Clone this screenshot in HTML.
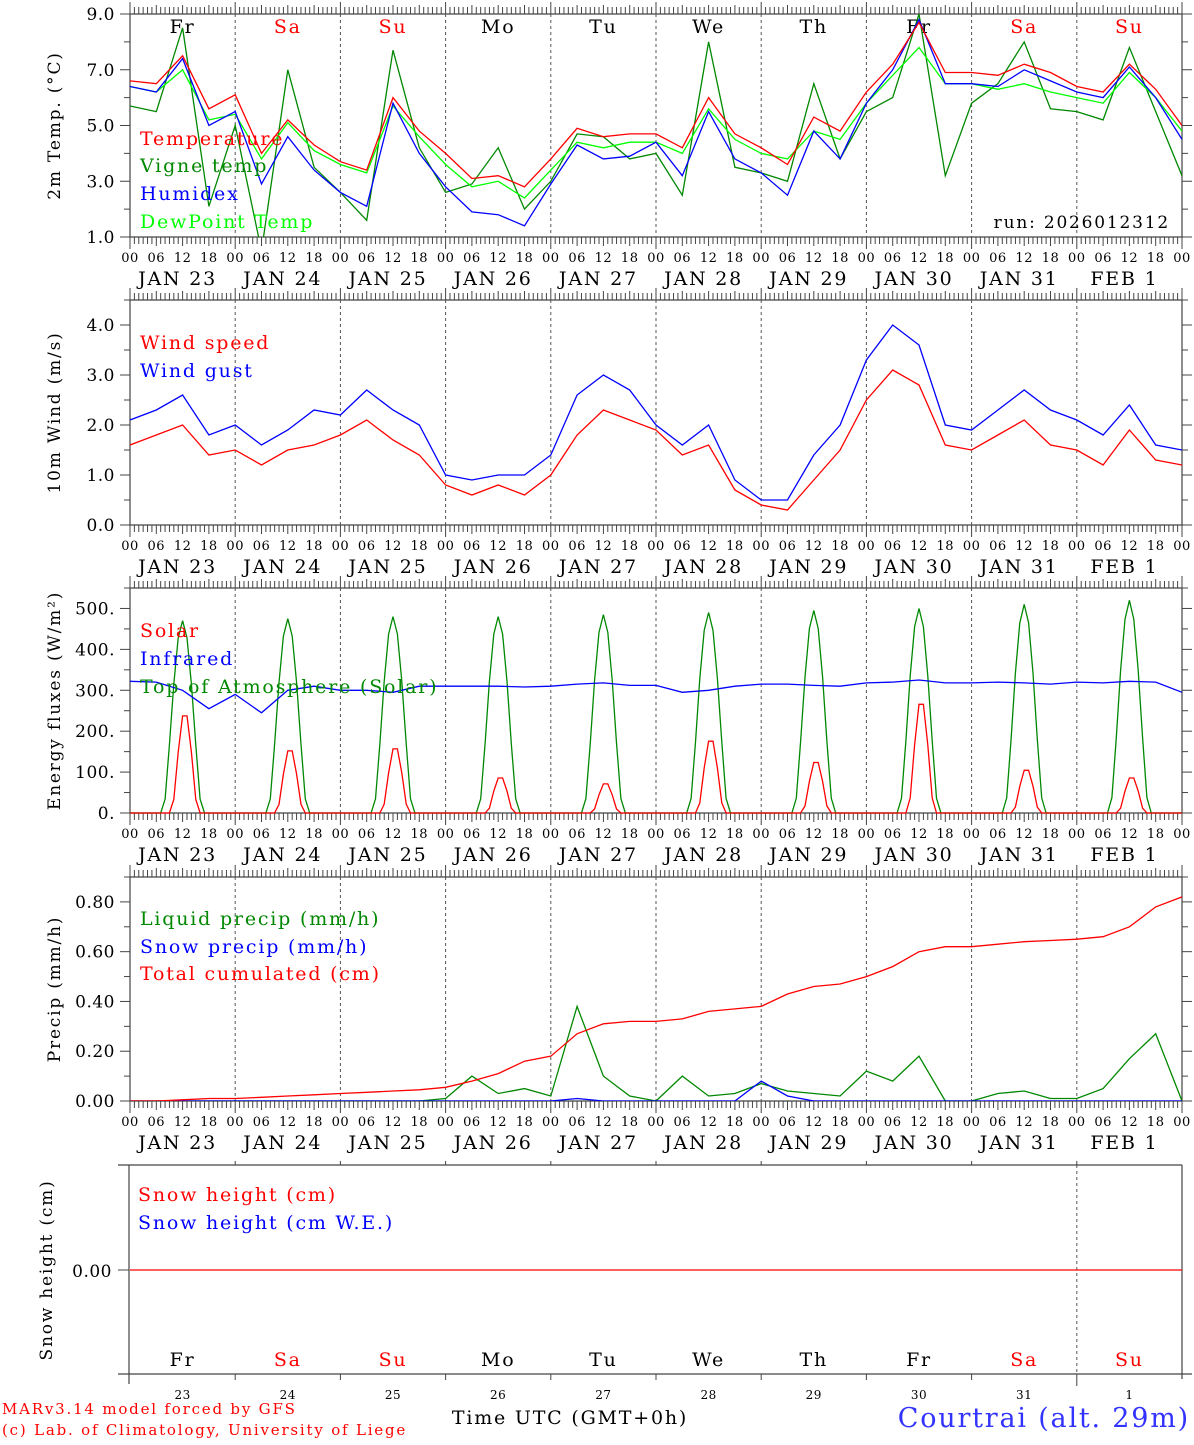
<!DOCTYPE html>
<html><head><meta charset="utf-8"><style>
body{margin:0;background:#fff;width:1194px;height:1440px;overflow:hidden}
svg text{font-family:"DejaVu Serif","Liberation Serif",serif;letter-spacing:1.8px}
svg text.t{letter-spacing:0.5px}
</style></head><body>
<svg id="c" width="1194" height="1440" xmlns="http://www.w3.org/2000/svg"></svg>
<script>
const days=["JAN 23","JAN 24","JAN 25","JAN 26","JAN 27","JAN 28","JAN 29","JAN 30","JAN 31","FEB  1"];
const dayAbbr=["Fr","Sa","Su","Mo","Tu","We","Th","Fr","Sa","Su"];
const dayNums=["23","24","25","26","27","28","29","30","31","1"];
const temperature=[6.6,6.5,7.5,5.6,6.1,4.0,5.2,4.3,3.7,3.4,6.0,4.8,4.0,3.1,3.2,2.8,3.8,4.9,4.6,4.7,4.7,4.2,6.0,4.7,4.2,3.6,5.3,4.8,6.2,7.2,8.7,6.9,6.9,6.8,7.2,6.9,6.4,6.2,7.2,6.3,5.0];
const humidex=[6.4,6.2,7.4,5.0,5.5,2.9,4.6,3.4,2.6,2.1,5.8,4.0,2.8,1.9,1.8,1.4,2.9,4.3,3.8,3.9,4.4,3.2,5.5,3.8,3.3,2.5,4.8,3.8,5.8,7.0,8.8,6.5,6.5,6.4,7.0,6.6,6.2,6.0,7.1,6.0,4.5];
const dewpoint=[6.4,6.2,7.0,5.2,5.4,3.8,5.1,4.1,3.6,3.3,5.7,4.6,3.6,2.8,3.0,2.4,3.4,4.4,4.2,4.4,4.4,4.0,5.6,4.5,4.0,3.8,4.8,4.5,5.8,6.8,7.8,6.5,6.5,6.3,6.5,6.2,6.0,5.8,6.9,6.0,4.8];
const vigne=[5.7,5.5,8.5,2.1,5.0,0.5,7.0,3.5,2.6,1.6,7.7,4.2,2.6,2.9,4.2,2.0,3.0,4.7,4.6,3.8,4.0,2.5,8.0,3.5,3.3,3.0,6.5,3.8,5.5,6.0,9.0,3.2,5.8,6.5,8.0,5.6,5.5,5.2,7.8,5.5,3.2];
const windSpeed=[1.6,1.8,2.0,1.4,1.5,1.2,1.5,1.6,1.8,2.1,1.7,1.4,0.8,0.6,0.8,0.6,1.0,1.8,2.3,2.1,1.9,1.4,1.6,0.7,0.4,0.3,0.9,1.5,2.5,3.1,2.8,1.6,1.5,1.8,2.1,1.6,1.5,1.2,1.9,1.3,1.2];
const windGust=[2.1,2.3,2.6,1.8,2.0,1.6,1.9,2.3,2.2,2.7,2.3,2.0,1.0,0.9,1.0,1.0,1.4,2.6,3.0,2.7,2.0,1.6,2.0,0.9,0.5,0.5,1.4,2.0,3.3,4.0,3.6,2.0,1.9,2.3,2.7,2.3,2.1,1.8,2.4,1.6,1.5];
const solarPeak=[250,160,165,90,75,185,130,280,110,90];
const toaPeak=[470,475,480,480,485,490,495,500,510,520];
const infrared=[322,320,300,255,290,245,300,310,300,300,295,310,310,310,310,308,310,315,318,312,312,295,300,310,315,315,312,310,318,320,325,318,318,320,318,315,320,318,322,320,295];
const cumul=[0,0,0.005,0.01,0.01,0.015,0.02,0.025,0.03,0.035,0.04,0.045,0.055,0.08,0.11,0.16,0.18,0.27,0.31,0.32,0.32,0.33,0.36,0.37,0.38,0.43,0.46,0.47,0.50,0.54,0.60,0.62,0.62,0.63,0.64,0.645,0.65,0.66,0.70,0.78,0.82];
const liquid=[0,0,0,0,0,0,0,0,0,0,0,0,0.01,0.1,0.03,0.05,0.02,0.38,0.1,0.02,0,0.1,0.02,0.03,0.07,0.04,0.03,0.02,0.12,0.08,0.18,0,0,0.03,0.04,0.01,0.01,0.05,0.17,0.27,0];
const snowPrecip=[0,0,0,0,0,0,0,0,0,0,0,0,0,0,0,0,0,0.01,0,0,0,0,0,0,0.08,0.02,0,0,0,0,0,0,0,0,0,0,0,0,0,0,0];
const snowHeight=[0,0,0,0,0,0,0,0,0,0,0];

const svg=document.getElementById('c');const NS="http://www.w3.org/2000/svg";
function el(tag,attrs,txt,parent){const e=document.createElementNS(NS,tag);for(const k in attrs)e.setAttribute(k,attrs[k]);if(txt!==undefined)e.textContent=txt;(parent||svg).appendChild(e);return e;}
const X0=130,X1=1182,DW=(X1-X0)/10;
const xh=h=>X0+h*DW/24;
function line(x1,y1,x2,y2,c,w,d){return el('line',{x1,y1,x2,y2,stroke:c||'#000','stroke-width':w||1,'stroke-dasharray':d||'none'});}
let curClip='';
function poly(vals,step,ys,color,name){const pts=vals.map((v,i)=>xh(i*step).toFixed(1)+','+ys(v).toFixed(1)).join(' ');const p=el('polyline',{points:pts,fill:'none',stroke:color,'stroke-width':1.3,'clip-path':curClip});return p;}
function txt(x,y,s,size,color,anchor,name,cls){const t=el('text',{x,y,'font-size':size,fill:color||'#000','text-anchor':anchor||'start'},s);if(cls)t.setAttribute('class',cls);return t;}
const defs=el('defs',{});
let clipN=0;
function panel(top,bot,vmin,vmax,major,minor,fmt,title,name){
  const ys=v=>bot-(v-vmin)/(vmax-vmin)*(bot-top);
  clipN++;const cp=el('clipPath',{id:'cp'+clipN},undefined,defs);el('rect',{x:X0,y:top,width:X1-X0,height:bot-top},undefined,cp);curClip='url(#cp'+clipN+')';
  line(X0,top,X1,top,'#444',1.2);line(X0,bot,X1,bot,'#444',1.2);
  line(X0,top,X0,bot,'#444',1.2);line(X1,top,X1,bot,'#444',1.2);
  for(let h=0;h<=240;h++){const x=xh(h);const L=h%24==0?12:(h%6==0?9:7);
    line(x,top,x,top-L,'#444',1);line(x,bot,x,bot+L,'#444',1);}
  for(let d=1;d<10;d++)line(xh(d*24),top,xh(d*24),bot,'#555',1,'3,3');
  for(let v=vmin;v<=vmax+1e-9;v+=minor){const y=ys(v);const r=(v-vmin)/major;const isM=Math.abs(Math.round(r)-r)<1e-6;
    line(X0-(isM?10:6),y,X0,y,'#444',1);line(X1,y,X1+(isM?10:6),y,'#444',1);
    if(isM)txt(X0-15,y+6,fmt(v),17,'#000','end','y-tick-label','t');}
  const ty=(top+bot)/2;const t=txt(60,ty,title,17,'#000','middle','y-axis-title');t.setAttribute('transform',`rotate(-90 60 ${ty})`);
  for(let d=0;d<10;d++){for(let k=0;k<4;k++)txt(xh(d*24+k*6),bot+25,['00','06','12','18'][k],13,'#000','middle','x-hour-label','t');
    txt(xh(d*24+12)-5,bot+48,days[d],19,'#000','middle','x-day-label');}
  txt(X1,bot+25,'00',13,'#000','middle','x-hour-label','t');
  return ys;
}
// Panel 1
let ys=panel(14,237,1,9,2,1,v=>v.toFixed(1),'2m Temp. (°C)','temp');
for(let d=0;d<10;d++)txt(xh(d*24+12),33,dayAbbr[d],19,(d==1||d==2||d==8||d==9)?'#f00':'#000','middle','day-abbr');
poly(vigne,6,ys,'#080','vigne-line');poly(dewpoint,6,ys,'#0f0','dewpoint-line');poly(humidex,6,ys,'#00f','humidex-line');poly(temperature,6,ys,'#f00','temperature-line');
txt(140,145,'Temperature',19,'#f00','start','legend-temperature');txt(140,172,'Vigne temp',19,'#080','start','legend-vigne');
txt(140,200,'Humidex',19,'#00f','start','legend-humidex');txt(140,228,'DewPoint Temp',19,'#0f0','start','legend-dewpoint');
txt(1170,228,'run: 2026012312',17,'#000','end','run-label');
// Panel 2
ys=panel(300,525,0,4.5,1,0.5,v=>v.toFixed(1),'10m Wind (m/s)','wind');
poly(windGust,6,ys,'#00f','wind-gust-line');poly(windSpeed,6,ys,'#f00','wind-speed-line');
txt(140,349,'Wind speed',19,'#f00','start','legend-wind-speed');txt(140,377,'Wind gust',19,'#00f','start','legend-wind-gust');
// Panel 3
ys=panel(588,813,0,550,100,50,v=>v.toFixed(0)+'.','Energy fluxes (W/m²)','energy');
function dayCurve(peaks,h0,h1){const out=[];for(let d=0;d<10;d++){out.push([d*24+h0-1,0]);for(let h=h0;h<=h1;h++){const s=Math.sin(Math.PI*(h-h0+0.5)/(h1-h0+1));out.push([d*24+h,peaks[d]*Math.pow(s,1.5)]);}out.push([d*24+h1+1,0]);}out.unshift([0,0]);out.push([240,0]);return out;}
function polyXY(pts,ys,color,name){const p=el('polyline',{points:pts.map(q=>xh(q[0]).toFixed(1)+','+ys(q[1]).toFixed(1)).join(' '),fill:'none',stroke:color,'stroke-width':1.3});}
polyXY(dayCurve(toaPeak,8,16),ys,'#080','toa-solar-line');
polyXY(dayCurve(solarPeak,10,15),ys,'#f00','solar-line');
poly(infrared,6,ys,'#00f','infrared-line');
txt(140,637,'Solar',19,'#f00','start','legend-solar');txt(140,665,'Infrared',19,'#00f','start','legend-infrared');txt(140,693,'Top of Atmosphere (Solar)',19,'#080','start','legend-toa');
// Panel 4
ys=panel(877,1101,0,0.9,0.2,0.1,v=>v.toFixed(2),'Precip (mm/h)','precip');
poly(liquid,6,ys,'#080','liquid-precip-line');poly(snowPrecip,6,ys,'#00f','snow-precip-line');poly(cumul,6,ys,'#f00','cumulated-line');
txt(140,925,'Liquid precip (mm/h)',19,'#080','start','legend-liquid');txt(140,953,'Snow precip (mm/h)',19,'#00f','start','legend-snow-precip');txt(140,980,'Total cumulated (cm)',19,'#f00','start','legend-cumulated');
// Panel 5
curClip='';
const T5=1165,B5=1374;const ys5=v=>1270-v*100;
line(118,T5,X1,T5,'#444',1.2);line(118,B5,X1+10,B5,'#444',1.2);line(129,T5,129,B5+10,'#444',1.2);line(X1,T5,X1,B5+5,'#444',1.2);
for(let d=1;d<10;d++){line(xh(d*24),T5,xh(d*24),T5-4,'#444',1);line(xh(d*24),B5,xh(d*24),B5+(d==9?12:6),'#444',1);}
line(xh(216),T5,xh(216),B5,'#555',1,'3,3');
line(118,1270,129,1270,'#444',1);txt(112,1277,'0.00',17,'#000','end','y-tick-label','t');
let t5=txt(52,1270,'Snow height (cm)',17,'#000','middle','y-axis-title');t5.setAttribute('transform','rotate(-90 52 1270)');
poly(snowHeight,24,ys5,'#f00','snow-height-line');
txt(138,1201,'Snow height (cm)',19,'#f00','start','legend-snow-height');txt(138,1229,'Snow height (cm W.E.)',19,'#00f','start','legend-snow-we');
for(let d=0;d<10;d++){txt(xh(d*24+12),1366,dayAbbr[d],19,(d==1||d==2||d==8||d==9)?'#f00':'#000','middle','day-abbr-bottom');txt(xh(d*24+12),1399,dayNums[d],12,'#000','middle','day-number','t');}
txt(570,1424,'Time UTC (GMT+0h)',19,'#000','middle','x-axis-title');
txt(2,1414,'MARv3.14 model forced by GFS',15,'#f00','start','credit-model');
txt(2,1435,'(c) Lab. of Climatology, University of Liege',15,'#f00','start','credit-lab');
txt(1190,1427,'Courtrai (alt. 29m)',27,'#33f','end','station-title');
</script>
</body></html>
